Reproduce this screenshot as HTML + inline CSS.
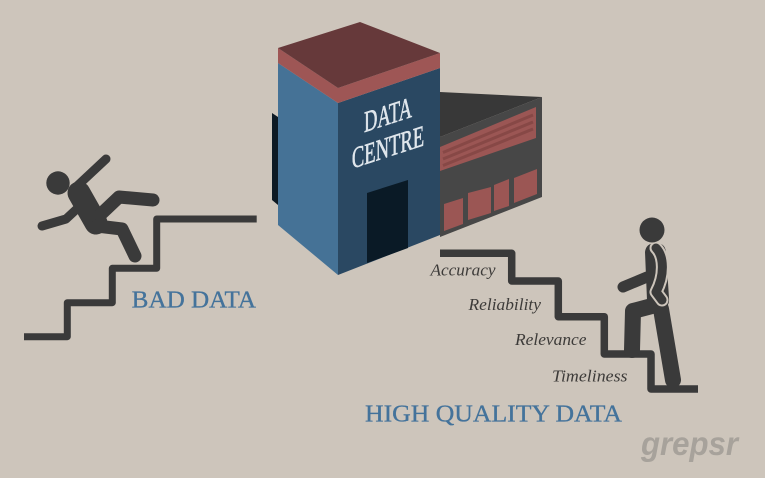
<!DOCTYPE html>
<html><head><meta charset="utf-8"><style>
html,body{margin:0;padding:0;background:#cdc5bb;}
svg{display:block;}
</style></head><body>
<svg width="765" height="478" viewBox="0 0 765 478" xmlns="http://www.w3.org/2000/svg">
<rect width="765" height="478" fill="#cdc5bb"/>

<!-- Warehouse -->
<polygon points="440,92 542,97 440,137" fill="#383838"/>
<polygon points="440,137 542,97 542,197 440,237" fill="#474747"/>
<polygon points="440,147 536,107 536,138 440,171" fill="#9b5654"/>
<g stroke="#874846" stroke-width="3">
<line x1="443" y1="152.5" x2="533" y2="115"/>
<line x1="443" y1="159" x2="533" y2="122"/>
<line x1="443" y1="165.5" x2="533" y2="129"/>
</g>
<polygon points="444,204 463,198 463,224 444,231" fill="#9b5654"/>
<polygon points="468,193 491,187 491,213 468,220" fill="#9b5654"/>
<polygon points="494,185 509,179 509,206 494,211" fill="#9b5654"/>
<polygon points="514,178 537,169 537,194 514,203" fill="#9b5654"/>

<!-- Left dark block -->
<polygon points="272,113 278,117 278,205 272,200" fill="#0d1a24"/>

<!-- Tower -->
<polygon points="278,63 338,103 338,275 278,225" fill="#457296"/>
<polygon points="338,103 440,68 440,235 338,275" fill="#2a4862"/>
<polygon points="278,48 338,88 440,53 440,68 338,103 278,63" fill="#9e5655"/>
<polygon points="278,48 360,22 440,53 338,88" fill="#66393a"/>
<polygon points="367,193 408,180 408,248 367,263" fill="#0a1a26"/>
<g fill="#dfe6ec" stroke="#dfe6ec" stroke-width="0.6" font-family="Liberation Serif, serif" font-size="30" text-anchor="middle">
<g transform="translate(388,124.6) skewY(-18) scale(0.62,1)"><text x="0" y="0">DATA</text></g>
<g transform="translate(388,157) skewY(-18) scale(0.62,1)"><text x="0" y="0">CENTRE</text></g>
</g>

<!-- Left stairs -->
<path d="M24,336.7 H67.3 V302.7 H112.3 V268.3 H156.7 V219 H256.7" fill="none" stroke="#3a3a3a" stroke-width="7" stroke-linejoin="round"/>

<!-- Falling man -->
<g fill="none" stroke="#3a3a3a" stroke-linecap="round" stroke-linejoin="round">
<path d="M75,188 L106,159" stroke-width="9"/>
<path d="M79,193 L96,223" stroke-width="23"/>
<path d="M80,206 L66,219 L42,226" stroke-width="9"/>
<path d="M100,215 L119,197 L153,200" stroke-width="13"/>
<path d="M97,226 L122,229 L135,256" stroke-width="13"/>
</g>
<circle cx="58" cy="183" r="11.7" fill="#3a3a3a"/>

<text x="131.7" y="307.3" font-family="Liberation Serif, serif" font-size="24" fill="#44739b" stroke="#44739b" stroke-width="0.3" textLength="124.3" lengthAdjust="spacingAndGlyphs">BAD DATA</text>

<!-- Right stairs -->
<path d="M440,253.3 H511.7 V281 H558.3 V316.7 H604.3 V354 H651 V389 H698" fill="none" stroke="#3a3a3a" stroke-width="7.5" stroke-linejoin="round"/>

<!-- Labels -->
<g font-family="Liberation Serif, serif" font-style="italic" font-size="17" fill="#3d3b39">
<text x="430.5" y="275.7" textLength="65" lengthAdjust="spacingAndGlyphs">Accuracy</text>
<text x="468.5" y="310" textLength="72.5" lengthAdjust="spacingAndGlyphs">Reliability</text>
<text x="515" y="345" textLength="71.5" lengthAdjust="spacingAndGlyphs">Relevance</text>
<text x="552" y="381.7" textLength="75.5" lengthAdjust="spacingAndGlyphs">Timeliness</text>
</g>

<!-- Walking man -->
<g fill="none" stroke="#3a3a3a" stroke-linecap="round" stroke-linejoin="round">
<path d="M647,277 L623,287" stroke-width="11"/>
<path d="M652,306 L633,311 L632,350" stroke-width="16"/>
<path d="M661,309 L673,380" stroke-width="16"/>
</g>
<path d="M645,252 Q646,243 656,243 Q665,243 666,252 L669,298 Q670,308 660,309 L652,309 Q647,308 647,300 Z" fill="#3a3a3a"/>
<g fill="none" stroke-linecap="round" stroke-linejoin="round">
<path d="M656,248 C664,256 665,275 656,292 L662,300" stroke="#cdc5bb" stroke-width="13"/>
<path d="M656,248 C664,256 665,275 656,292 L662,300" stroke="#3a3a3a" stroke-width="9"/>
</g>
<circle cx="652" cy="230" r="12.5" fill="#3a3a3a"/>

<text x="365" y="421.7" font-family="Liberation Serif, serif" font-size="24" fill="#44739b" stroke="#44739b" stroke-width="0.3" textLength="257" lengthAdjust="spacingAndGlyphs">HIGH QUALITY DATA</text>

<text x="641" y="455" font-family="Liberation Sans, sans-serif" font-weight="bold" font-style="italic" font-size="33" fill="#a7a29b" textLength="97" lengthAdjust="spacingAndGlyphs">grepsr</text>
</svg>
</body></html>
